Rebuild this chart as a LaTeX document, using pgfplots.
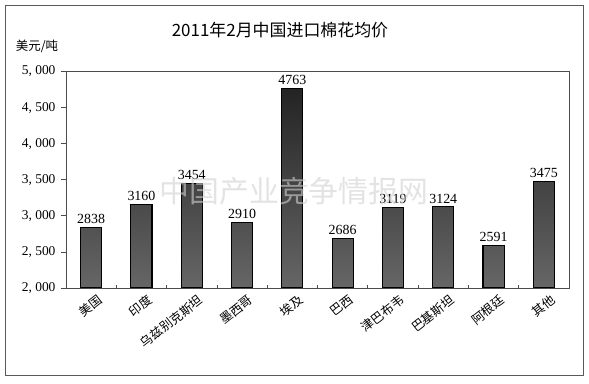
\documentclass[border=0pt]{standalone}
\usepackage{pgfplots}
\usepackage{pgfplotstable}
\pgfplotsset{compat=1.18}
\usepackage{fontspec}
\setmainfont{Liberation Serif}
\newfontfamily\cjk{Noto Sans CJK SC}
\pgfplotstableread{
x v
0 2838
1 3160
2 3454
3 2910
4 4763
5 2686
6 3119
7 3124
8 2591
9 3475
}\cottondata
\begin{document}
\begin{tikzpicture}
\useasboundingbox (0bp,0bp) rectangle (589bp,384bp);
\draw[black!65, line width=0.9bp] (5bp,9bp) rectangle (583bp,379bp);
\node[font=\cjk\fontsize{17}{17}\selectfont] at (280bp,354bp) {2011年2月中国进口棉花均价};
\node[font=\cjk\fontsize{12.5}{12.5}\selectfont] at (37bp,338bp) {美元/吨};
\begin{axis}[
  at={(66bp,96bp)}, anchor=south west,
  scale only axis, width=503bp, height=216.5bp,
  xmin=-0.5, xmax=9.5, ymin=0, ymax=3000,
  axis line style={black!70, line width=0.7bp},
  tick align=outside,
  ytick={0,500,...,3000},
  yticklabels={{2, 000},{2, 500},{3, 000},{3, 500},{4, 000},{4, 500},{5, 000}},
  yticklabel style={font=\fontsize{13.5}{13.5}\selectfont, xshift=-2bp},
  ytick pos=left,
  y tick style={black!70, line width=0.7bp},
  major tick length=5bp,
  xtick={0,...,9},
  xticklabels={美国,印度,乌兹别克斯坦,墨西哥,埃及,巴西,津巴布韦,巴基斯坦,阿根廷,其他},
  xticklabel style={font=\cjk\fontsize{12.5}{12.5}\selectfont, rotate=38, anchor=north east, inner sep=1bp, xshift=5bp, yshift=-3bp},
  major x tick style={draw=none},
  minor xtick={0.5,1.5,...,8.5},
  minor tick length=3bp,
  minor x tick style={black!70, line width=0.7bp, yshift=3bp},
  xtick pos=bottom,
  /pgf/number format/.cd, 1000 sep={}, assume math mode=true,
]
\addplot[ybar, bar width=0.42, draw=black, line width=1.1bp,
  top color=black!86, bottom color=black!60,
  point meta=explicit,
  nodes near coords={\pgfmathprintnumber[fixed,precision=0,1000 sep={},assume math mode=true]{\pgfplotspointmeta}},
  every node near coord/.append style={font=\fontsize{14}{14}\selectfont, black, inner sep=2bp, yshift=1bp}]
  table[x=x, y expr=\thisrow{v}-2000, meta=v]{\cottondata};
\end{axis}
\node[font=\cjk\fontsize{30}{30}\selectfont, text=black!18, opacity=0.6] at (294bp,193bp) {中国产业竞争情报网};
\end{tikzpicture}
\end{document}
